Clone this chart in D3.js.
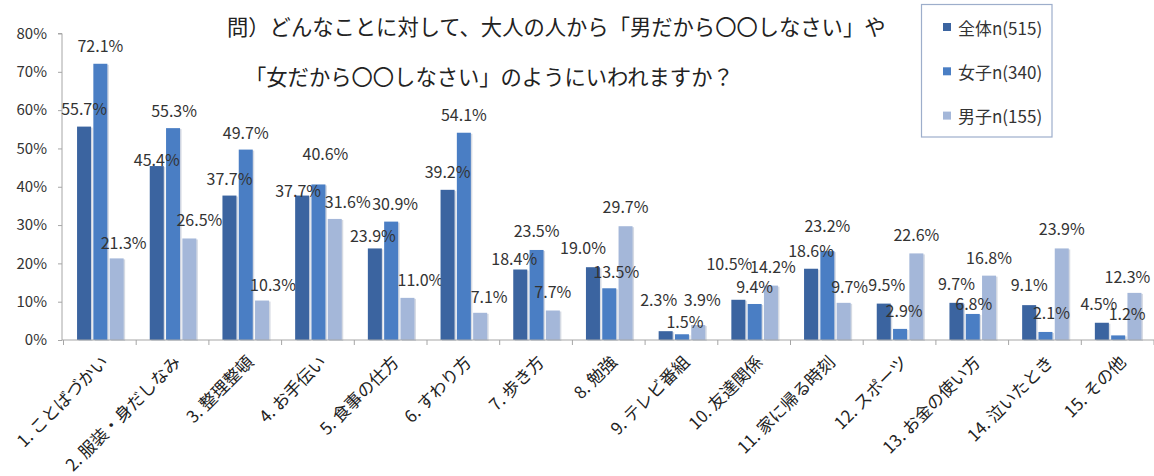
<!DOCTYPE html>
<html lang="ja">
<head>
<meta charset="utf-8">
<script src="https://cdn.jsdelivr.net/npm/d3@7"></script>
<style>
  html, body { margin: 0; padding: 0; background: #fff; }
  svg { display: block; font-family: "Noto Sans CJK JP", "Noto Sans", sans-serif; }
</style>
</head>
<body>
<svg id="chart" width="1154" height="476"></svg>
<script>
// 項目
const categories = [
  "1. ことばづかい", "2. 服装・身だしなみ", "3. 整理整頓", "4. お手伝い",
  "5. 食事の仕方", "6. すわり方", "7. 歩き方", "8. 勉強", "9. テレビ番組",
  "10. 友達関係", "11. 家に帰る時刻", "12. スポーツ", "13. お金の使い方",
  "14. 泣いたとき", "15. その他"
];
// 回答率（%）
const totalValues = [55.7, 45.4, 37.7, 37.7, 23.9, 39.2, 18.4, 19.0, 2.3, 10.5, 18.6, 9.5, 9.7, 9.1, 4.5];
const girlsValues = [72.1, 55.3, 49.7, 40.6, 30.9, 54.1, 23.5, 13.5, 1.5, 9.4, 23.2, 2.9, 6.8, 2.1, 1.2];
const boysValues  = [21.3, 26.5, 10.3, 31.6, 11.0, 7.1, 7.7, 29.7, 3.9, 14.2, 9.7, 22.6, 16.8, 23.9, 12.3];
const seriesNames = ["全体n(515)", "女子n(340)", "男子n(155)"];
const yTicks = [0, 10, 20, 30, 40, 50, 60, 70, 80];
const titleLines = [
  "問）どんなことに対して、大人の人から「男だから〇〇しなさい」や",
  "「女だから〇〇しなさい」のようにいわれますか？"
];

// 値ラベルの微調整（px、系列ごと）
const labelShiftX = [
  [0, 0, 0, -4, -2, 0, -6, -10, -7, -9, 0, 3, 0, 0, -3],
  [0, 1, 0, 7, 4, 0, 0, 7, 3, 0, 0, 4, 1, 6, 9],
  [7, 10, 11, 13, 13, 9, 0, 0, 4, 2, 6, 0, 0, 0, -7]
];
const labelShiftY = [
  [0, 12, 1, 13, 6, 0, 7, -1, -13, -18, 0, -1, -1, -2, -1],
  [0, 1, 1, -12, 0, 0, -1, 2, 6, 1, -7, 0, 8, -1, -3],
  [3, 0, 2, 1, 0, 2, 0, -1, -7, -1, 2, 0, 0, -1, 2]
];

const colors = ["#3b64a0", "#4a7ec4", "#a4b7d9"];
const textColor = "#333333";
const axisColor = "#a6a6a6";

const svg = d3.select("#chart");

const series = [totalValues, girlsValues, boysValues];
const rows = categories.map((c, i) => ({
  cat: c,
  i,
  vals: series.map((s, k) => ({ k, v: s[i], i }))
}));

const x0 = d3.scaleBand().domain(categories).range([63.5, 1154]).padding(0);
const groupWidth = 46.6;
const x1 = d3.scaleBand().domain(d3.range(3)).range([0, groupWidth]).paddingInner(0.141).paddingOuter(0);
const y = d3.scaleLinear().domain([0, 80]).range([340, 33.5]);

// 縦軸
const yAxis = d3.axisLeft(y).tickValues(yTicks).tickSize(4).tickPadding(11).tickFormat(d => d + "%");
const gy = svg.append("g").attr("transform", "translate(62,0)").call(yAxis);
gy.select(".domain").attr("stroke", axisColor).attr("d", `M-4,${y(80)}H0V${y(0)}`);
gy.selectAll(".tick line").attr("stroke", axisColor);
gy.selectAll(".tick text").attr("fill", textColor).style("font-size", "15px")
  .style("font-family", "'Noto Sans CJK JP', sans-serif");

// 棒
const groups = svg.append("g").selectAll("g").data(rows).join("g")
  .attr("transform", d => `translate(${x0(d.cat) + x0.bandwidth() / 2 - groupWidth / 2 + 0.5},0)`);

groups.selectAll("rect.shadow").data(d => d.vals).join("rect")
  .attr("class", "shadow")
  .attr("x", d => x1(d.k) + 1.5)
  .attr("y", d => y(d.v) + 1)
  .attr("width", x1.bandwidth())
  .attr("height", d => y(0) - y(d.v))
  .attr("fill", "#d5dae3");

groups.selectAll("rect.bar").data(d => d.vals).join("rect")
  .attr("class", "bar")
  .attr("x", d => x1(d.k))
  .attr("y", d => y(d.v))
  .attr("width", x1.bandwidth())
  .attr("height", d => y(0) - y(d.v))
  .attr("fill", d => colors[d.k]);

// 横軸
const xAxisLine = svg.append("g");
xAxisLine.append("line")
  .attr("x1", 62).attr("x2", 1154).attr("y1", y(0)).attr("y2", y(0))
  .attr("stroke", axisColor).attr("stroke-width", 1);
xAxisLine.selectAll("line.tk").data(categories.concat([null])).join("line")
  .attr("class", "tk")
  .attr("x1", (d, i) => x0.range()[0] + i * x0.step())
  .attr("x2", (d, i) => x0.range()[0] + i * x0.step())
  .attr("y1", y(0)).attr("y2", y(0) + 5)
  .attr("stroke", axisColor);

// 値ラベル
groups.selectAll("text.val").data(d => d.vals).join("text")
  .attr("class", "val")
  .attr("x", d => x1(d.k) + x1.bandwidth() / 2 + labelShiftX[d.k][d.i])
  .attr("y", d => y(d.v) - 19 + labelShiftY[d.k][d.i])
  .attr("text-anchor", "middle")
  .attr("dominant-baseline", "central")
  .attr("fill", textColor)
  .style("font-size", "16px")
  .text(d => d.v.toFixed(1) + "%");

// 項目ラベル（斜め）
svg.append("g").selectAll("text").data(categories).join("text")
  .attr("transform", d => `translate(${x0(d) + x0.bandwidth() / 2 + 4},358) rotate(-45)`)
  .attr("text-anchor", "end")
  .attr("dominant-baseline", "central")
  .attr("fill", "#222")
  .style("font-size", "17px")
  .text(d => d);

// タイトル
svg.append("g").selectAll("text").data(titleLines).join("text")
  .attr("x", (d, i) => i === 0 ? 227 : 245)
  .attr("y", (d, i) => i === 0 ? 25 : 75)
  .attr("dominant-baseline", "central")
  .attr("fill", "#222")
  .style("font-size", "21.3px")
  .text(d => d);

// 凡例
const legend = svg.append("g");
legend.append("rect")
  .attr("x", 921.5).attr("y", 4.5).attr("width", 130.5).attr("height", 132.5)
  .attr("fill", "#fff").attr("stroke", "#9daecb").attr("stroke-width", 1.2);
const items = legend.selectAll("g").data(seriesNames).join("g")
  .attr("transform", (d, i) => `translate(943,${27 + i * 44.3})`);
items.append("rect").attr("x", 0).attr("y", -4).attr("width", 8).attr("height", 8)
  .attr("fill", (d, i) => colors[i]);
items.append("text").attr("x", 15).attr("y", 0)
  .attr("dominant-baseline", "central").attr("fill", textColor)
  .style("font-size", "17px").text(d => d);
</script>
</body>
</html>
